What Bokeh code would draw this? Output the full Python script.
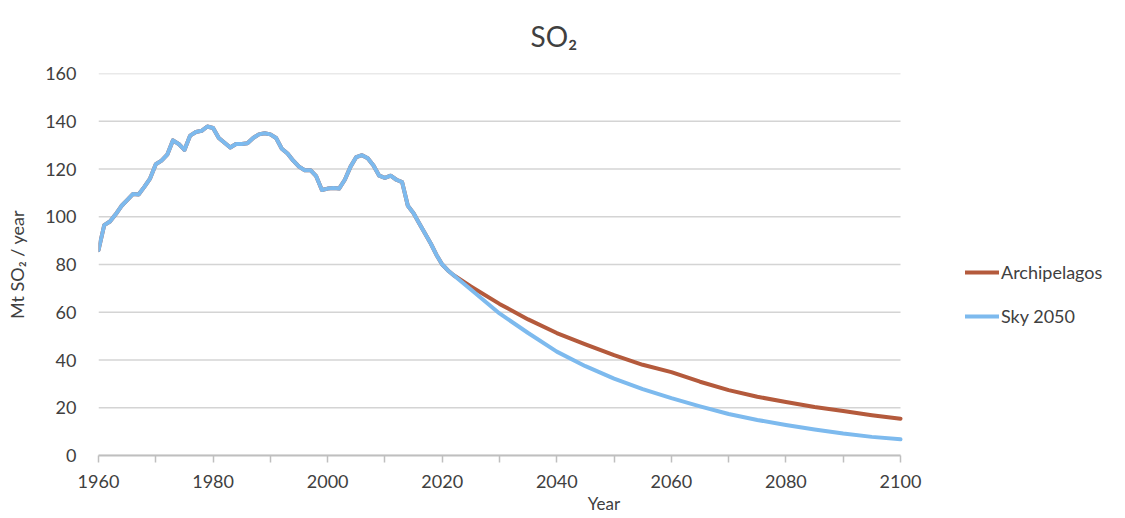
from bokeh.plotting import figure
from bokeh.models import (ColumnDataSource, Range1d, FixedTicker, Legend, LegendItem)
from bokeh.embed import file_html
from bokeh.resources import INLINE

# ---- data ----
hist_years = [1960, 1961, 1962, 1963, 1964, 1965, 1966, 1967, 1968, 1969,
              1970, 1971, 1972, 1973, 1974, 1975, 1976, 1977, 1978, 1979,
              1980, 1981, 1982, 1983, 1984, 1985, 1986, 1987, 1988, 1989,
              1990, 1991, 1992, 1993, 1994, 1995, 1996, 1997, 1998, 1999,
              2000, 2001, 2002, 2003, 2004, 2005, 2006, 2007, 2008, 2009,
              2010, 2011, 2012, 2013, 2014, 2015, 2016, 2017, 2018, 2019,
              2020, 2021, 2022]
hist_values = [86.0, 96.5, 98.0, 101.0, 104.5, 107.0, 109.5, 109.3, 112.5, 116.0,
               122.0, 123.5, 126.0, 132.0, 130.5, 128.0, 134.0, 135.5, 136.0, 137.8,
               137.2, 133.0, 131.0, 129.0, 130.5, 130.5, 130.8, 133.0, 134.5, 135.0,
               134.5, 133.0, 128.5, 126.5, 123.5, 121.0, 119.5, 119.5, 117.0, 111.2,
               111.8, 112.0, 111.8, 115.5, 121.0, 125.0, 125.8, 124.5, 121.5, 117.2,
               116.3, 117.2, 115.5, 114.5, 104.6, 101.5, 97.2, 93.0, 88.8, 84.0,
               80.0, 77.5, 75.5]

proj_years = [2025, 2030, 2035, 2040, 2045, 2050, 2055, 2060, 2065, 2070,
              2075, 2080, 2085, 2090, 2095, 2100]
archipelagos_proj = [70.8, 63.5, 57.0, 51.3, 46.5, 42.0, 38.0, 34.9, 30.9, 27.4,
                     24.6, 22.4, 20.3, 18.6, 16.9, 15.4]
sky2050_proj = [69.5, 59.5, 51.3, 43.5, 37.4, 32.2, 27.8, 24.0, 20.6, 17.4,
                14.9, 12.8, 10.9, 9.2, 7.8, 6.8]

series_names = ["Archipelagos", "Sky 2050"]
series_colors = ["#B45A3C", "#7DBAEE"]
x_start, x_end = 1960, 2100
x_ticks = [1960, 1980, 2000, 2020, 2040, 2060, 2080, 2100]
x_minor_ticks = [1970, 1990, 2010, 2030, 2050, 2070, 2090]
y_ticks = [0, 20, 40, 60, 80, 100, 120, 140, 160]

FONT = "Lato"
TXT = "#404040"

# layout (pixels)
W, H = 1109, 518
LEFT, PLOT_RIGHT, TOP, BOTTOM = 98, 900, 73, 63
# the frame spans to the right edge so the legend (drawn inside it) is not clipped
x_view_end = x_start + (x_end - x_start) * (W - LEFT) / (PLOT_RIGHT - LEFT)

src = ColumnDataSource(dict(
    year=hist_years + proj_years,
    arch=hist_values + archipelagos_proj,
    sky=hist_values + sky2050_proj,
))
grid_src = ColumnDataSource(dict(
    x0=[x_start] * len(y_ticks), x1=[x_end] * len(y_ticks), y=y_ticks,
))

p = figure(width=W, height=H, output_backend="svg", toolbar_location=None,
           x_range=Range1d(x_start, x_view_end), y_range=Range1d(0, 160),
           min_border_left=LEFT, min_border_right=0, min_border_top=TOP,
           min_border_bottom=BOTTOM)
p.outline_line_color = None
p.background_fill_color = "white"
p.border_fill_color = "white"

# title
p.title.text = "SO\u2082"
p.title.align = "left"
p.title.vertical_align = "top"
p.title.offset = 432
p.title.standoff = 37
p.title.text_font = FONT
p.title.text_font_size = "28px"
p.title.text_font_style = "normal"
p.title.text_color = TXT

# grid (horizontal lines stop at the last year, like the reference)
p.xgrid.visible = False
p.ygrid.visible = False
p.segment("x0", "y", "x1", "y", source=grid_src, line_color="#d4d4d4", line_width=1.4)

# y axis
p.yaxis.ticker = FixedTicker(ticks=y_ticks)
p.yaxis.axis_line_color = None
p.yaxis.major_tick_line_color = None
p.yaxis.minor_tick_line_color = None
p.yaxis.major_tick_out = 0
p.yaxis.major_tick_in = 0
p.yaxis.minor_tick_out = 0
p.yaxis.minor_tick_in = 0
p.yaxis.major_label_standoff = 22
p.yaxis.major_label_text_font = FONT
p.yaxis.major_label_text_font_size = "18px"
p.yaxis.major_label_text_color = TXT
p.yaxis.axis_label = "Mt SO\u2082 / year"
p.yaxis.axis_label_text_font = FONT
p.yaxis.axis_label_text_font_size = "18px"
p.yaxis.axis_label_text_font_style = "normal"
p.yaxis.axis_label_text_color = TXT
p.yaxis.axis_label_standoff = 14

# x axis
p.xaxis.ticker = FixedTicker(ticks=x_ticks, minor_ticks=x_minor_ticks)
p.xaxis.bounds = (x_start, x_end)
p.xaxis.axis_line_color = "#bfbfbf"
p.xaxis.axis_line_width = 2
p.xaxis.major_tick_line_color = "#bfbfbf"
p.xaxis.minor_tick_line_color = "#bfbfbf"
p.xaxis.major_tick_line_width = 1.5
p.xaxis.minor_tick_line_width = 1.5
p.xaxis.major_tick_in = 0
p.xaxis.major_tick_out = 7
p.xaxis.minor_tick_in = 0
p.xaxis.minor_tick_out = 7
p.xaxis.major_label_standoff = 12
p.xaxis.major_label_text_font = FONT
p.xaxis.major_label_text_font_size = "18px"
p.xaxis.major_label_text_color = TXT
p.xaxis.axis_label = "Year"
p.xaxis.axis_label_text_font = FONT
p.xaxis.axis_label_text_font_size = "17px"
p.xaxis.axis_label_text_font_style = "normal"
p.xaxis.axis_label_text_color = TXT
p.xaxis.axis_label_standoff = 2

# lines
r_arch = p.line("year", "arch", source=src, color=series_colors[0], line_width=4,
                line_join="round", line_cap="round")
r_sky = p.line("year", "sky", source=src, color=series_colors[1], line_width=4,
               line_join="round", line_cap="round")

legend = Legend(items=[LegendItem(label=series_names[0], renderers=[r_arch]),
                       LegendItem(label=series_names[1], renderers=[r_sky])],
                location=(867, 128))
legend.border_line_color = None
legend.background_fill_alpha = 0
legend.padding = 0
legend.margin = 0
legend.spacing = 22
legend.glyph_width = 34
legend.glyph_height = 22
legend.label_height = 22
legend.label_standoff = 2
legend.label_text_font = FONT
legend.label_text_font_size = "18px"
legend.label_text_color = TXT
p.add_layout(legend)

open("out.html", "w").write(file_html(p, INLINE))
